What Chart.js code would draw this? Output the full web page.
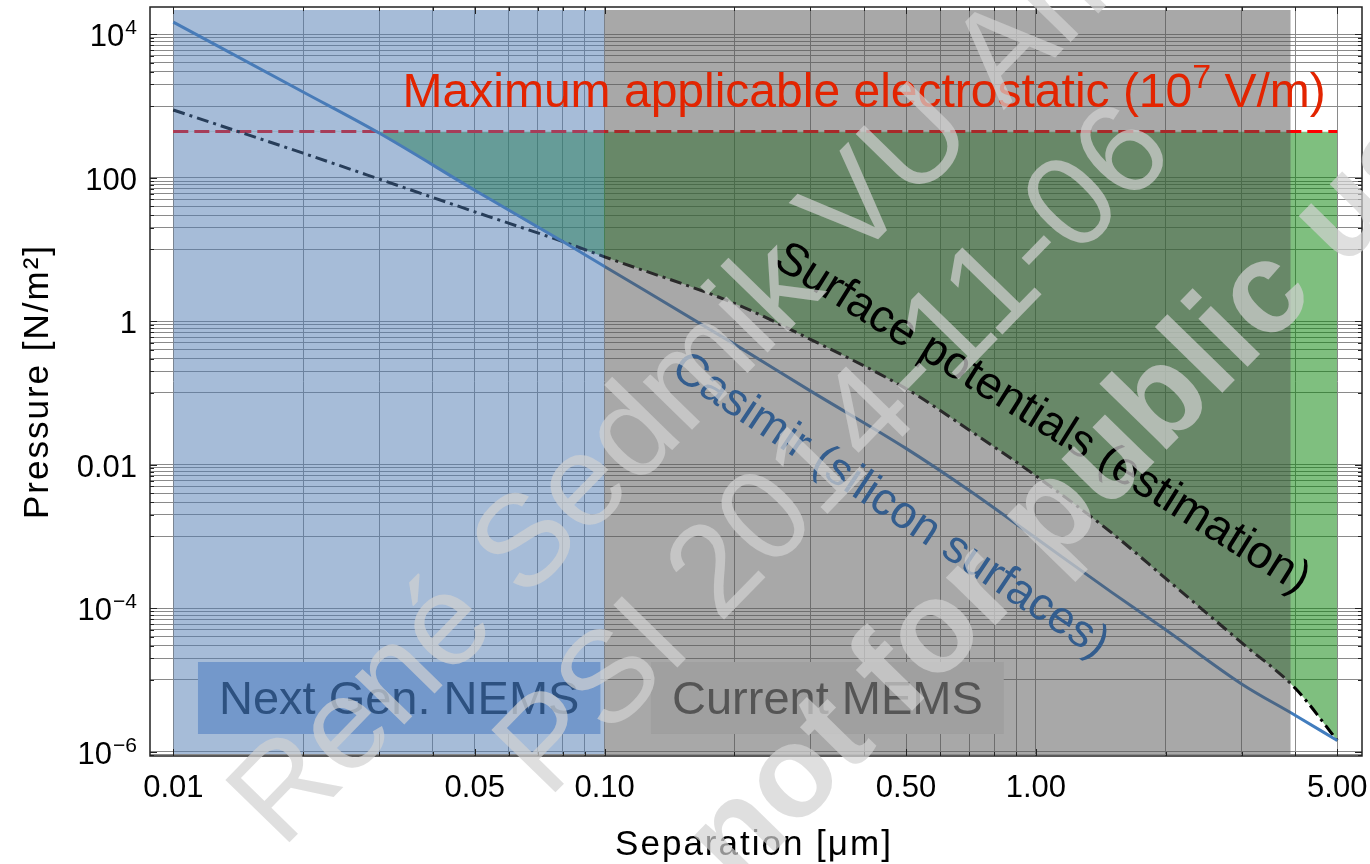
<!DOCTYPE html>
<html>
<head>
<meta charset="utf-8">
<script src="https://cdn.jsdelivr.net/npm/chart.js@4.4.1/dist/chart.umd.min.js"></script>
<style>
  html, body { margin: 0; padding: 0; background: #fff; }
  #wrap { width: 1370px; height: 864px; position: relative; }
</style>
</head>
<body>
<div id="wrap"><canvas id="c" width="1370" height="864"></canvas></div>
<script>
// Separation in µm, pressures in N/m²
const separation       = [0.01, 0.02, 0.03, 0.05, 0.08, 0.1, 0.2, 0.3, 0.5, 0.7, 1, 1.5, 2, 3, 4, 5];
const casimir          = [14800, 1570, 420, 67, 12.9, 5.8, 0.48, 0.107, 0.0169, 4.4e-3, 9.5e-4, 1.66e-4, 5.0e-5, 8.8e-6, 3.2e-6, 1.43e-6];
const surfacePotential = [881, 220, 96, 33.5, 12.9, 7.9, 1.77, 0.56, 0.115, 0.0305, 7.0e-3, 1.12e-3, 2.6e-4, 3.3e-5, 7.6e-6, 1.43e-6];
const electrostaticMax = 442;          // eps0 * E^2 / 2 at E = 1e7 V/m
const nemsRange = [0.01, 0.1];         // next generation NEMS gaps
const memsRange = [0.1, 3.9];          // current MEMS gaps

const xTickValues = [0.01, 0.05, 0.1, 0.5, 1, 5];
const xTickLabels = ['0.01', '0.05', '0.10', '0.50', '1.00', '5.00'];
const yTickValues = [1e-6, 1e-4, 0.01, 1, 100, 1e4];
const yTickLabels = ['10^\u22126', '10^\u22124', '0.01', '1', '100', '10^4'];

const X_MIN = 0.00883, X_MAX = 5.706;
const Y_MIN = 8.7e-7,  Y_MAX = 24000;
const SHADE_TOP = 21800, SHADE_BOTTOM = 9.3e-7;

const FONT = '"Liberation Sans", Arial, Helvetica, sans-serif';

// minor grid: 1..9 per decade along x, clusters under each labelled y decade
const xGrid = [];
[0.01, 0.1, 1].forEach(d => { for (let k = 1; k <= 9; k++) { const v = +(d * k).toPrecision(3); if (v <= 5) xGrid.push(v); } });
const yGrid = [];
yTickValues.forEach(m => {
  for (let k = 1; k <= 10; k++) {
    const v = +(m * k / 10).toPrecision(3);
    if (v >= Y_MIN && v <= Y_MAX) yGrid.push(v);
  }
});

const pts = (xs, ys) => xs.map((x, i) => ({ x, y: ys[i] }));
const envelope = separation.map((x, i) => ({ x, y: Math.max(casimir[i], surfacePotential[i]) }));

function drawRich(ctx, parts, cx, baseline) {
  let w = 0;
  parts.forEach(p => { ctx.font = p.font; p.w = ctx.measureText(p.t).width; w += p.w; });
  let px = cx - w / 2;
  ctx.textAlign = 'left';
  ctx.textBaseline = 'alphabetic';
  parts.forEach(p => { ctx.font = p.font; ctx.fillText(p.t, px, baseline - (p.rise || 0)); px += p.w; });
}

function boxLabel(ctx, xs, ys, text, vx, vy, fill, color) {
  const cx = xs.getPixelForValue(vx), cy = ys.getPixelForValue(vy);
  ctx.font = '47px ' + FONT;
  const w = ctx.measureText(text).width + 42;
  const h = 72;
  ctx.fillStyle = fill;
  ctx.fillRect(cx - w / 2, cy - h / 2, w, h);
  ctx.fillStyle = color;
  ctx.textAlign = 'center';
  ctx.textBaseline = 'alphabetic';
  ctx.fillText(text, cx, cy + 16);
}

function rotatedLabel(ctx, xs, ys, text, vx, vy, angle, color, size) {
  ctx.save();
  ctx.translate(xs.getPixelForValue(vx), ys.getPixelForValue(vy));
  ctx.rotate(angle * Math.PI / 180);
  ctx.font = size + 'px ' + FONT;
  ctx.fillStyle = color;
  ctx.textAlign = 'center';
  ctx.textBaseline = 'middle';
  ctx.fillText(text, 0, 0);
  ctx.restore();
}

const decorations = {
  id: 'decorations',
  afterDatasetsDraw(chart) {
    const { ctx, scales: { x, y } } = chart;
    ctx.save();
    boxLabel(ctx, x, y, 'Next Gen. NEMS', 0.0334, 5.6e-6, '#7398cb', '#2d5180');
    boxLabel(ctx, x, y, 'Current MEMS', 0.3286, 5.6e-6, '#a0a0a0', '#555555');
    rotatedLabel(ctx, x, y, 'Surface potentials (estimation)', 1.033, 0.0435, 32, '#000000', 46);
    rotatedLabel(ctx, x, y, 'Casimir (silicon surfaces)', 0.459, 2.66e-3, 33.7, '#335d8e', 46);
    ctx.fillStyle = '#e32400';
    drawRich(ctx, [
      { t: 'Maximum applicable electrostatic (10', font: '48px ' + FONT },
      { t: '7', font: '34px ' + FONT, rise: 19 },
      { t: ' V/m)', font: '48px ' + FONT }
    ], x.getPixelForValue(0.4), y.getPixelForValue(970));
    ctx.restore();
  },
  afterDraw(chart) {
    const { ctx, chartArea: a, scales: { x, y } } = chart;
    ctx.save();
    // frame
    ctx.strokeStyle = '#222';
    ctx.lineWidth = 1.5;
    ctx.strokeRect(a.left, a.top, a.right - a.left, a.bottom - a.top);
    // inward tick marks
    ctx.lineWidth = 1;
    ctx.beginPath();
    xGrid.forEach(v => {
      const px = Math.round(x.getPixelForValue(v)) + 0.5;
      const len = xTickValues.includes(v) ? 7 : 4;
      ctx.moveTo(px, a.bottom); ctx.lineTo(px, a.bottom - len);
      ctx.moveTo(px, a.top); ctx.lineTo(px, a.top + len);
    });
    yGrid.forEach(v => {
      const py = Math.round(y.getPixelForValue(v)) + 0.5;
      const len = yTickValues.includes(v) ? 7 : 4;
      ctx.moveTo(a.left, py); ctx.lineTo(a.left + len, py);
      ctx.moveTo(a.right, py); ctx.lineTo(a.right - len, py);
    });
    ctx.stroke();

    // tick labels
    ctx.fillStyle = '#000';
    ctx.textBaseline = 'alphabetic';
    ctx.font = '31px ' + FONT;
    ctx.textAlign = 'center';
    xTickValues.forEach((v, i) => ctx.fillText(xTickLabels[i], x.getPixelForValue(v), a.bottom + 41));
    yTickValues.forEach((v, i) => {
      const base = y.getPixelForValue(v) + 12;
      const right = a.left - 13;
      const [main, exp] = yTickLabels[i].split('^');
      ctx.textAlign = 'right';
      if (exp) {
        ctx.font = '21px ' + FONT;
        const ew = ctx.measureText(exp).width;
        ctx.fillText(exp, right, base - 12);
        ctx.font = '31px ' + FONT;
        ctx.fillText(main, right - ew - 1, base);
      } else {
        ctx.font = '31px ' + FONT;
        ctx.fillText(main, right, base);
      }
    });

    // axis titles
    ctx.font = '35px ' + FONT;
    if ('letterSpacing' in ctx) ctx.letterSpacing = '2px';
    ctx.textAlign = 'center';
    ctx.textBaseline = 'alphabetic';
    ctx.fillText('Separation [\u03bcm]', (a.left + a.right) / 2 - 2, a.bottom + 99);
    ctx.save();
    ctx.translate(48, (a.top + a.bottom) / 2);
    ctx.rotate(-Math.PI / 2);
    ctx.fillText('Pressure [N/m\u00b2]', 0, 0);
    ctx.restore();
    if ('letterSpacing' in ctx) ctx.letterSpacing = '0px';

    // watermark
    const ang = -45.7 * Math.PI / 180;
    ctx.fillStyle = 'rgba(210,210,210,0.7)';
    ctx.textAlign = 'left';
    ctx.textBaseline = 'alphabetic';
    [
      { t: 'Ren\u00e9 Sedmik VU Amsterdam', x: 282, y: 850, bold: false },
      { t: 'PSI 2014-11-06', x: 548, y: 800, bold: false },
      { t: 'not for public use', x: 737, y: 890, bold: true }
    ].forEach(w => {
      ctx.save();
      ctx.translate(w.x, w.y);
      ctx.rotate(ang);
      ctx.font = (w.bold ? 'bold ' : '') + '130px ' + FONT;
      ctx.fillText(w.t, 0, 0);
      ctx.restore();
    });
    ctx.restore();
  }
};

new Chart(document.getElementById('c'), {
  type: 'line',
  data: {
    datasets: [
      { label: 'window', data: envelope, order: 10, borderWidth: 0, borderColor: 'transparent', pointRadius: 0,
        cubicInterpolationMode: 'monotone',
        fill: { target: { value: electrostaticMax }, above: 'rgba(0,0,0,0)', below: 'rgba(0,128,0,0.5)' } },
      { label: 'electrostatic', data: pts([separation[0], separation[separation.length - 1]], [electrostaticMax, electrostaticMax]),
        order: 9, borderColor: '#ff0000', borderWidth: 3, borderDash: [15, 6], pointRadius: 0, fill: false },
      { label: 'surface', data: pts(separation, surfacePotential), order: 8, borderColor: '#000000', borderWidth: 3,
        borderDash: [12, 5, 3, 5], pointRadius: 0, fill: false, cubicInterpolationMode: 'monotone' },
      { label: 'casimir', data: pts(separation, casimir), order: 7, borderColor: '#427dbe', borderWidth: 3,
        pointRadius: 0, fill: false, cubicInterpolationMode: 'monotone' },
      { label: 'nems', data: pts(nemsRange, [SHADE_TOP, SHADE_TOP]), order: 2, borderWidth: 0, borderColor: 'transparent',
        pointRadius: 0, backgroundColor: 'rgba(77,121,177,0.5)', fill: { target: { value: SHADE_BOTTOM } } },
      { label: 'mems', data: pts(memsRange, [SHADE_TOP, SHADE_TOP]), order: 1, borderWidth: 0, borderColor: 'transparent',
        pointRadius: 0, backgroundColor: 'rgba(82,82,82,0.5)', fill: { target: { value: SHADE_BOTTOM } } }
    ]
  },
  options: {
    responsive: false,
    animation: false,
    devicePixelRatio: 1,
    layout: { padding: { left: 150, top: 7, right: 8, bottom: 108 } },
    elements: { line: { tension: 0 } },
    plugins: { legend: { display: false }, tooltip: { enabled: false } },
    scales: {
      x: {
        type: 'logarithmic', min: X_MIN, max: X_MAX,
        afterBuildTicks: s => { s.ticks = xGrid.map(v => ({ value: v })); },
        afterFit: s => { s.height = 0; },
        ticks: { display: false },
        grid: { color: '#8a8a8a', lineWidth: 1, drawTicks: false },
        border: { display: false }
      },
      y: {
        type: 'logarithmic', min: Y_MIN, max: Y_MAX,
        afterBuildTicks: s => { s.ticks = yGrid.map(v => ({ value: v })); },
        afterFit: s => { s.width = 0; },
        ticks: { display: false },
        grid: { color: '#8a8a8a', lineWidth: 1, drawTicks: false },
        border: { display: false }
      }
    }
  },
  plugins: [decorations]
});
</script>
</body>
</html>
